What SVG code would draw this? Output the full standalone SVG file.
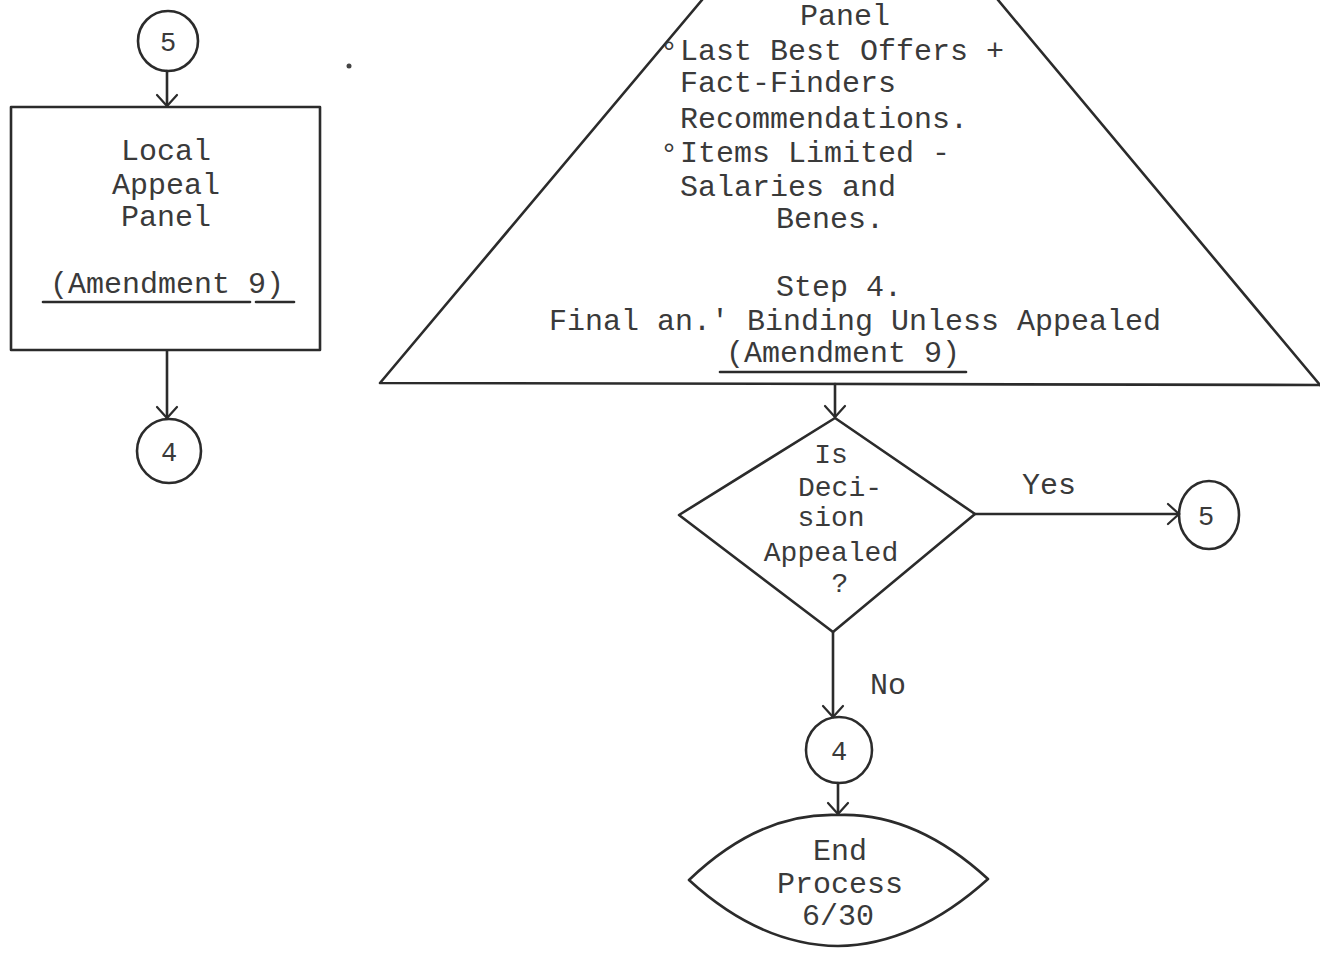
<svg xmlns="http://www.w3.org/2000/svg" width="1320" height="954" viewBox="0 0 1320 954">
<defs>
<style>
.ln{fill:none;stroke:#2b2b2b;stroke-width:2.6;stroke-linejoin:round;stroke-linecap:round}
.t{font-family:"Liberation Mono","DejaVu Sans Mono",monospace;font-size:30px;fill:#3a3a3a}
.s{font-size:28px}
.c{text-anchor:middle}
.d{font-family:"Liberation Mono","DejaVu Sans Mono",monospace;font-size:27px;fill:#3a3a3a;text-anchor:middle}
</style>
<marker id="v" viewBox="0 0 24 24" refX="13" refY="12" markerWidth="24" markerHeight="24" markerUnits="userSpaceOnUse" orient="auto">
<path d="M2,2 L13,12 L2,22" fill="none" stroke="#2b2b2b" stroke-width="2.2" stroke-linecap="round"/>
</marker>
</defs>
<rect width="1320" height="954" fill="#ffffff"/>

<g id="connectors">
<line class="ln" x1="167" y1="71" x2="167" y2="106" marker-end="url(#v)"/>
<line class="ln" x1="167" y1="351" x2="167" y2="418" marker-end="url(#v)"/>
<line class="ln" x1="835" y1="384" x2="835" y2="417" marker-end="url(#v)"/>
<line class="ln" x1="974" y1="514" x2="1179" y2="514" marker-end="url(#v)"/>
<line class="ln" x1="833" y1="632" x2="833" y2="717" marker-end="url(#v)"/>
<line class="ln" x1="838" y1="783" x2="838" y2="814" marker-end="url(#v)"/>
<text class="t" x="1022" y="494">Yes</text>
<text class="t" x="870" y="694">No</text>
</g>

<g id="conn5top">
<circle class="ln" cx="168" cy="41" r="30"/>
<text class="d" x="168" y="51">5</text>
</g>

<circle cx="349" cy="66" r="2.5" fill="#444"/>

<g id="localpanel">
<rect class="ln" x="11" y="107" width="309" height="243"/>
<text class="t c" x="166" y="160">Local</text>
<text class="t c" x="166" y="194">Appeal</text>
<text class="t c" x="166" y="226">Panel</text>
<text class="t c" x="167" y="293">(Amendment 9)</text>
<line class="ln" x1="43" y1="302" x2="250" y2="302" stroke-width="2"/>
<line class="ln" x1="256" y1="302" x2="294" y2="302" stroke-width="2"/>
</g>

<g id="conn4left">
<circle class="ln" cx="169" cy="451" r="32"/>
<text class="d" x="169" y="461">4</text>
</g>

<g id="step4">
<polyline class="ln" points="702,0 380,383 1320,385"/>
<line class="ln" x1="998" y1="0" x2="1320" y2="385"/>
<text class="t c" x="845" y="25">Panel</text>
<text class="t" x="660" y="62">°</text>
<text class="t" x="680" y="60">Last Best Offers +</text>
<text class="t" x="680" y="92">Fact-Finders</text>
<text class="t" x="680" y="128">Recommendations.</text>
<text class="t" x="660" y="164">°</text>
<text class="t" x="680" y="162">Items Limited -</text>
<text class="t" x="680" y="196">Salaries and</text>
<text class="t" x="776" y="228">Benes.</text>
<text class="t" x="776" y="296">Step 4.</text>
<text class="t c" x="855" y="330">Final an.' Binding Unless Appealed</text>
<text class="t c" x="843" y="362">(Amendment 9)</text>
<line class="ln" x1="720" y1="372" x2="966" y2="372" stroke-width="2"/>
</g>

<g id="decision">
<polygon class="ln" points="835,418 975,514 833,632 679,515"/>
<text class="t s c" x="831" y="463">Is</text>
<text class="t s c" x="840" y="496">Deci-</text>
<text class="t s c" x="831" y="526">sion</text>
<text class="t s c" x="831" y="561">Appealed</text>
<text class="t s c" x="840" y="592">?</text>
</g>

<g id="conn5right">
<ellipse class="ln" cx="1209" cy="515" rx="30" ry="34"/>
<text class="d" x="1206" y="525">5</text>
</g>

<g id="conn4bottom">
<circle class="ln" cx="839" cy="750" r="33"/>
<text class="d" x="839" y="760">4</text>
</g>

<g id="end">
<path class="ln" d="M689,880 Q760,812 838,815 Q915,812 988,879 Q915,945 838,946 Q760,945 689,880 Z"/>
<text class="t c" x="840" y="860">End</text>
<text class="t c" x="840" y="893">Process</text>
<text class="t c" x="838" y="925">6/30</text>
</g>
</svg>
